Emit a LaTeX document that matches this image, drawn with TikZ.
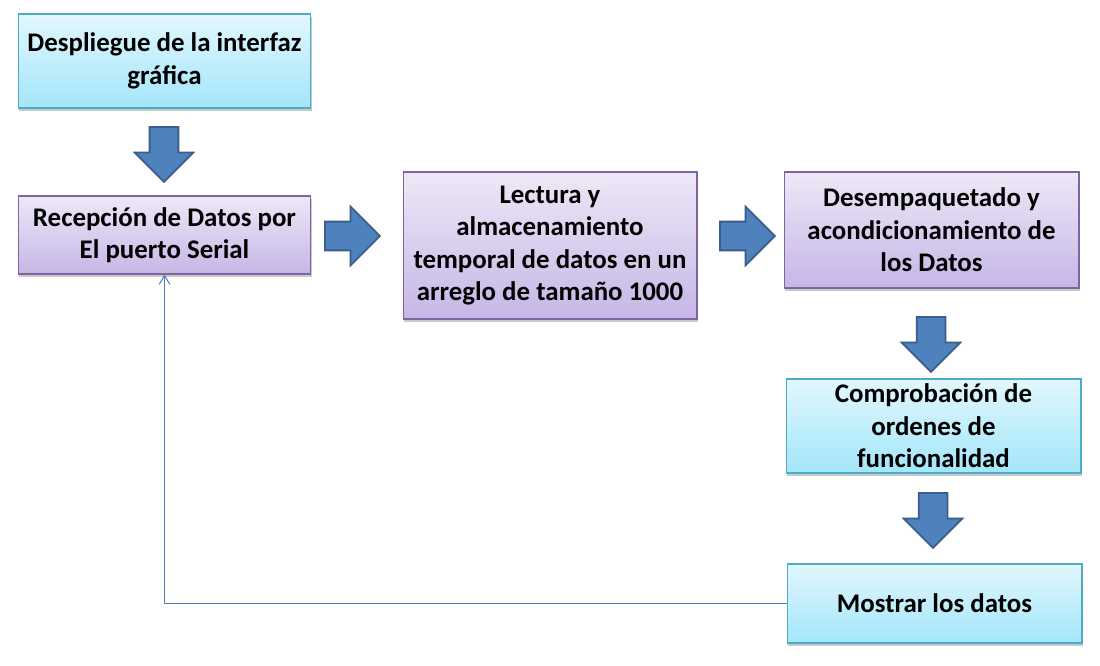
\documentclass[tikz,border=0pt]{standalone}
\usepackage{fontspec}
\setmainfont{Carlito}
\usetikzlibrary{shapes.arrows,shadows,arrows.meta}
\definecolor{cyantop}{HTML}{E2F7FD}
\definecolor{cyanbot}{HTML}{A3E6FA}
\definecolor{cyanline}{HTML}{4BACC6}
\definecolor{lilatop}{HTML}{EDE8F7}
\definecolor{lilabot}{HTML}{C6B6E6}
\definecolor{lilaline}{HTML}{8064A2}
\definecolor{arrowfill}{HTML}{4F81BD}
\definecolor{arrowline}{HTML}{385D8A}
\begin{document}
\begin{tikzpicture}[
        x=0.02cm, y=-0.02cm,
        box/.style={rectangle, draw, line width=0.6pt, align=center, inner sep=2pt,
            font=\fontsize{15.3}{18.5}\selectfont\bfseries,
            drop shadow={shadow xshift=0.6pt, shadow yshift=-1.6pt, opacity=0.35, fill=black!60}},
        cyan box/.style={box, draw=cyanline, top color=cyantop, bottom color=cyanbot},
        lila box/.style={box, draw=lilaline, top color=lilatop, bottom color=lilabot},
        block arrow/.style={single arrow, draw=arrowline, fill=arrowfill, line width=1pt,
            minimum height=1.1cm, inner xsep=0pt, inner ysep=0.27cm, text height=0pt, text depth=0pt,
            single arrow head extend=0.3cm, anchor=tail},
        back line/.style={draw=arrowfill, line width=0.6pt, -{Straight Barb[length=5pt,width=6pt]}},
    ]
	\useasboundingbox[fill=white] (0,0) rectangle (1100,666);
	\node[cyan box, minimum width=5.86cm, minimum height=1.88cm] (despliegue) at (164.5,61) {Despliegue de la interfaz\\gráfica};
	\node[lila box, minimum width=5.86cm, minimum height=1.56cm] (recepcion) at (164.5,235) {Recepción de Datos por\\El puerto Serial};
	\node[lila box, minimum width=5.88cm, minimum height=2.94cm] (lectura) at (550,245.5) {Lectura y\\almacenamiento\\temporal de datos en un\\arreglo de tamaño 1000};
	\node[lila box, minimum width=5.90cm, minimum height=2.32cm] (desempaquetado) at (931.5,230) {Desempaquetado y\\acondicionamiento de\\los Datos};
	\node[cyan box, minimum width=5.90cm, minimum height=1.88cm] (comprobacion) at (933.5,426) {Comprobación de\\ordenes de\\funcionalidad};
	\node[cyan box, minimum width=5.90cm, minimum height=1.58cm] (mostrar) at (934.5,603.5) {Mostrar los datos};
	\node[block arrow, rotate=-90] (flecha_a) at (164,126) {};
	\node[block arrow] (flecha_b) at (324,236) {};
	\node[block arrow] (flecha_c) at (719,236) {};
	\node[block arrow, rotate=-90] (flecha_d) at (931,316) {};
	\node[block arrow, rotate=-90] (flecha_e) at (933,492) {};
	\draw[back line] (mostrar.west) -| (recepcion.south);
\end{tikzpicture}
\end{document}
